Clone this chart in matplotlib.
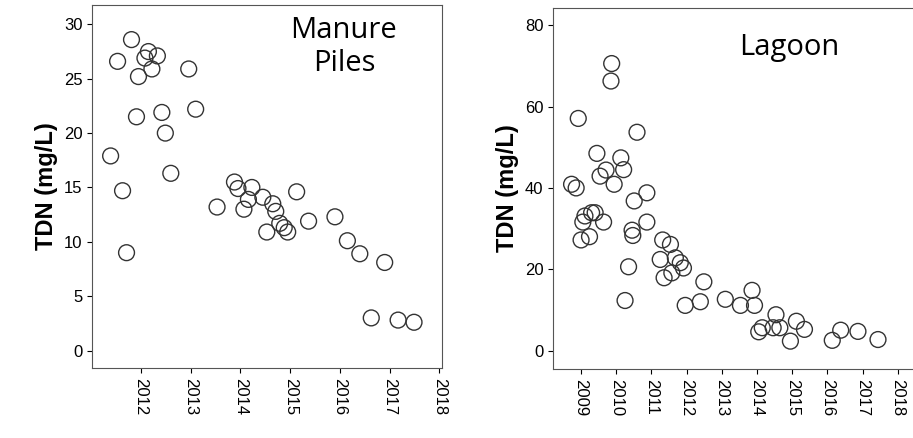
import matplotlib
matplotlib.use('Agg')
import matplotlib.pyplot as plt

plt.rcParams['font.family'] = ['Liberation Sans', 'DejaVu Sans']

# Manure piles
mp_year = [2011.39, 2011.53, 2011.63, 2011.71, 2011.81, 2011.91, 2011.95, 2012.08, 2012.15,
           2012.22, 2012.33, 2012.42, 2012.49, 2012.60, 2012.96, 2013.10, 2013.53, 2013.88,
           2013.95, 2014.07, 2014.16, 2014.23, 2014.45, 2014.53, 2014.65, 2014.71, 2014.79,
           2014.88, 2014.95, 2015.13, 2015.37, 2015.90, 2016.15, 2016.40, 2016.90, 2016.63,
           2017.17, 2017.49]
mp_tdn = [17.9, 26.6, 14.7, 9.0, 28.6, 21.5, 25.2, 26.9, 27.5,
          25.9, 27.1, 21.9, 20.0, 16.3, 25.9, 22.2, 13.2, 15.5,
          14.9, 13.0, 13.9, 15.0, 14.1, 10.9, 13.5, 12.8, 11.7,
          11.3, 10.9, 14.6, 11.9, 12.3, 10.1, 8.9, 8.1, 3.0,
          2.8, 2.6]

# Lagoon
lg_year = [2008.73, 2008.86, 2008.92, 2009.00, 2009.05, 2009.11, 2009.24, 2009.30, 2009.40,
           2009.45, 2009.54, 2009.64, 2009.71, 2009.85, 2009.87, 2009.94, 2010.13, 2010.21,
           2010.25, 2010.35, 2010.45, 2010.47, 2010.51, 2010.59, 2010.87, 2010.87, 2011.25,
           2011.32, 2011.36, 2011.54, 2011.58, 2011.68, 2011.82, 2011.91, 2011.96, 2012.39,
           2012.49, 2013.10, 2013.53, 2013.86, 2013.93, 2014.05, 2014.15, 2014.46, 2014.54,
           2014.65, 2014.95, 2015.12, 2015.35, 2016.14, 2016.38, 2016.87, 2017.44]
lg_tdn = [40.9, 40.0, 57.1, 27.2, 31.6, 33.1, 28.0, 33.9, 33.9,
          48.5, 42.9, 31.6, 44.4, 66.3, 70.6, 40.9, 47.4, 44.5,
          12.3, 20.6, 29.6, 28.3, 36.8, 53.7, 38.8, 31.6, 22.4,
          27.2, 17.9, 26.1, 19.1, 22.8, 21.6, 20.3, 11.1, 12.0,
          16.9, 12.6, 11.1, 14.8, 11.1, 4.6, 5.6, 5.6, 8.8,
          5.6, 2.3, 7.2, 5.2, 2.5, 5.0, 4.7, 2.7]

fig = plt.figure(figsize=(9.13, 4.38), dpi=100)
ax1 = fig.add_axes([0.101, 0.160, 0.383, 0.829])
ax2 = fig.add_axes([0.606, 0.158, 0.41, 0.824])

def style(ax, years, vals, xticks, yticks, xlim, ylim, label, lx, ly):
    ax.scatter(years, vals, s=130, facecolors='none', edgecolors='#333333', linewidths=1.0)
    ax.set_xticks(xticks)
    ax.set_xticklabels([str(t) for t in xticks], rotation=-90, fontsize=12)
    ax.set_yticks(yticks)
    ax.tick_params(axis='y', labelsize=12)
    ax.set_xlim(*xlim)
    ax.set_ylim(*ylim)
    ax.set_ylabel('TDN (mg/L)', fontsize=17, fontweight='bold')
    for s in ax.spines.values():
        s.set_color('#555555')
    ax.text(lx, ly, label, transform=ax.transAxes, fontsize=21, ha='center', va='top',
            family='Open Sans')

style(ax1, mp_year, mp_tdn, list(range(2012, 2019)), [0, 5, 10, 15, 20, 25, 30],
      (2011.02, 2018.05), (-1.6, 31.8), 'Manure\nPiles', 0.72, 0.97)
style(ax2, lg_year, lg_tdn, list(range(2009, 2019)), [0, 20, 40, 60, 80],
      (2008.21, 2018.85), (-4.5, 84.3), 'Lagoon', 0.63, 0.93)

fig.savefig('out.png', dpi=100)
